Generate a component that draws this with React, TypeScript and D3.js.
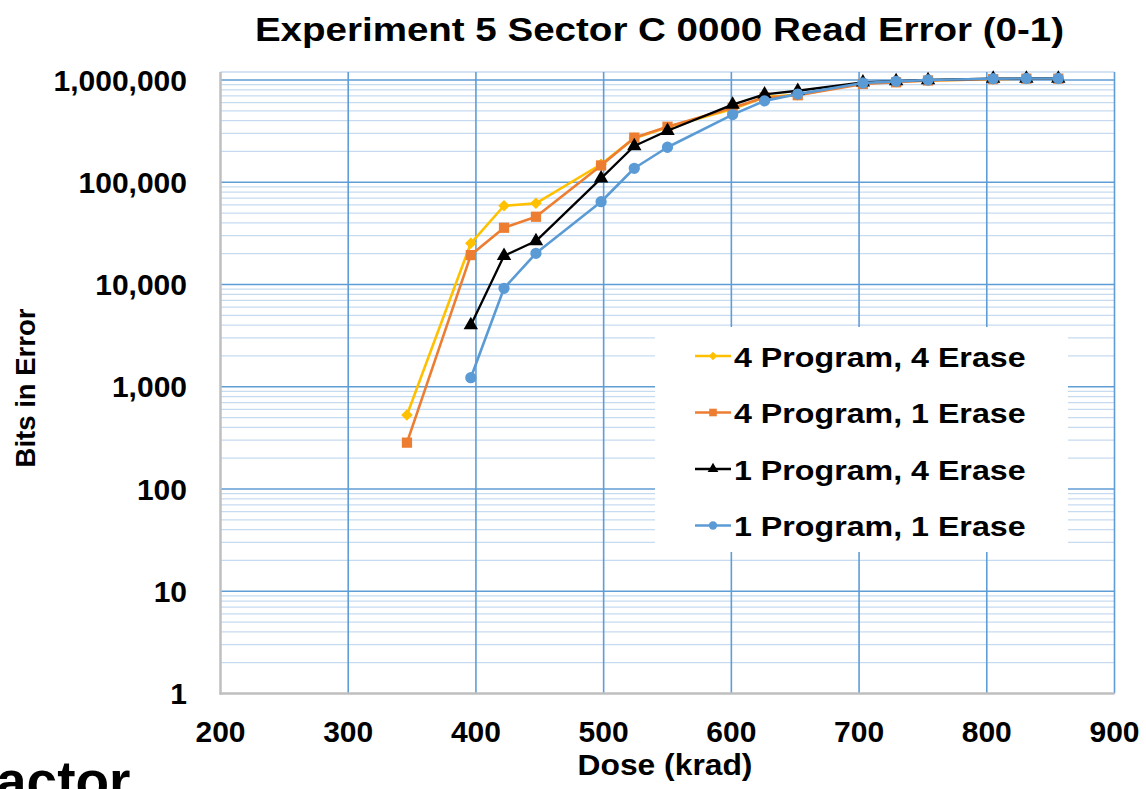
import React, { useEffect, useRef } from 'react';
import * as d3 from 'd3';

// dose points (krad)
const doses = [346, 396, 422, 447, 498, 524, 550, 601, 626, 652, 703, 729, 754, 805, 831, 856];

// bits in error per series (null = not measured)
const p4e4 = [530, 25300, 58900, 62200, 150000, 270000, 345000, 520000, 680000, 715000, 930000, 960000, 990000, 1020000, 1030000, 1030000];
const p4e1 = [284, 19400, 35900, 46000, 146000, 273000, 349000, 534000, 675000, 710000, 915000, 950000, 990000, 1020000, 1030000, 1030000];
const p1e4 = [null, 4000, 19100, 26600, 109000, 226000, 319000, 575000, 725000, 785000, 950000, 975000, 1000000, 1030000, 1035000, 1035000];
const p1e1 = [null, 1226, 9180, 20200, 64500, 137000, 220000, 459000, 625000, 728000, 935000, 970000, 1000000, 1030000, 1035000, 1035000];

const seriesNames = ['4 Program, 4 Erase', '4 Program, 1 Erase', '1 Program, 4 Erase', '1 Program, 1 Erase'];
const xTicks = [200, 300, 400, 500, 600, 700, 800, 900];
const yTicks = [1, 10, 100, 1000, 10000, 100000, 1000000];

const FONT = '"Liberation Sans", Arial, sans-serif';

const App = () => {
  const svgRef = useRef(null);

  useEffect(() => {
    const svg = d3.select(svgRef.current);
    svg.selectAll('*').remove();

    const left = 220.5, right = 1114.5, top = 72, bottom = 693.5;

    const x = d3.scaleLinear().domain([200, 900]).range([left, right]);
    const y = d3.scaleLog().domain([1, 1000000]).range([bottom, 80]);

    const g = svg.append('g');

    // minor grid
    const minors = [];
    for (let e = 0; e < 6; e++) {
      for (let m = 2; m <= 9; m++) minors.push(m * Math.pow(10, e));
    }
    g.selectAll('.minor')
      .data(minors)
      .enter().append('line')
      .attr('x1', left).attr('x2', right)
      .attr('y1', d => y(d)).attr('y2', d => y(d))
      .attr('stroke', '#c6dbf0')
      .attr('stroke-width', 1.3);

    // top border of plot area
    g.append('line')
      .attr('x1', left).attr('x2', right)
      .attr('y1', top).attr('y2', top)
      .attr('stroke', '#c6dbf0')
      .attr('stroke-width', 1.3);

    // major grid
    g.selectAll('.hmajor')
      .data(yTicks.slice(1))
      .enter().append('line')
      .attr('x1', left).attr('x2', right)
      .attr('y1', d => y(d)).attr('y2', d => y(d))
      .attr('stroke', '#5f9dd6')
      .attr('stroke-width', 1.6);

    g.selectAll('.vmajor')
      .data(xTicks.slice(1))
      .enter().append('line')
      .attr('x1', d => x(d)).attr('x2', d => x(d))
      .attr('y1', top).attr('y2', bottom)
      .attr('stroke', '#5f9dd6')
      .attr('stroke-width', 1.6);

    // axes lines
    g.append('line')
      .attr('x1', left).attr('x2', left)
      .attr('y1', top).attr('y2', bottom + 1)
      .attr('stroke', '#bfbfbf').attr('stroke-width', 2.5);
    g.append('line')
      .attr('x1', left - 1).attr('x2', right)
      .attr('y1', bottom).attr('y2', bottom)
      .attr('stroke', '#bfbfbf').attr('stroke-width', 2.5);

    // tick labels
    g.selectAll('.ylab')
      .data(yTicks)
      .enter().append('text')
      .attr('x', 187).attr('y', d => y(d) + 10.5)
      .attr('text-anchor', 'end')
      .attr('font-family', FONT).attr('font-weight', 'bold').attr('font-size', 30)
      .text(d => d3.format(',')(d));

    g.selectAll('.xlab')
      .data(xTicks)
      .enter().append('text')
      .attr('x', d => x(d)).attr('y', 742)
      .attr('text-anchor', 'middle')
      .attr('font-family', FONT).attr('font-weight', 'bold').attr('font-size', 30)
      .text(d => d);

    // axis titles
    g.append('text')
      .attr('transform', 'translate(665,775) scale(1.06,1)')
      .attr('text-anchor', 'middle')
      .attr('font-family', FONT).attr('font-weight', 'bold').attr('font-size', 30)
      .text('Dose (krad)');

    g.append('text')
      .attr('transform', 'translate(35,388) rotate(-90)')
      .attr('text-anchor', 'middle')
      .attr('font-family', FONT).attr('font-weight', 'bold').attr('font-size', 27.5)
      .text('Bits in Error');

    // title
    g.append('text')
      .attr('transform', 'translate(659.5,41) scale(1.15,1)')
      .attr('text-anchor', 'middle')
      .attr('font-family', FONT).attr('font-weight', 'bold').attr('font-size', 33.5)
      .text('Experiment 5 Sector C 0000 Read Error (0-1)');

    // leftover slide text, cut by the bottom edge as in the source
    svg.append('text')
      .attr('x', -4).attr('y', 800)
      .attr('font-family', FONT).attr('font-weight', 'bold').attr('font-size', 55)
      .text('actor');

    const series = [
      { name: seriesNames[0], values: p4e4, color: '#ffc000', symbol: d3.symbolDiamond2, size: 85, width: 2.6 },
      { name: seriesNames[1], values: p4e1, color: '#ed7d31', symbol: d3.symbolSquare, size: 105, width: 2.6 },
      { name: seriesNames[2], values: p1e4, color: '#000000', symbol: d3.symbolTriangle, size: 90, width: 2.3 },
      { name: seriesNames[3], values: p1e1, color: '#5b9bd5', symbol: d3.symbolCircle, size: 100, width: 2.6 },
    ];

    const line = d3.line()
      .defined(d => d.v != null)
      .x(d => x(d.x))
      .y(d => y(d.v));

    series.forEach(s => {
      const pts = doses.map((dx, i) => ({ x: dx, v: s.values[i] }));
      g.append('path')
        .datum(pts)
        .attr('d', line)
        .attr('fill', 'none')
        .attr('stroke', s.color)
        .attr('stroke-width', s.width)
        .attr('stroke-linejoin', 'round');
      g.selectAll(null)
        .data(pts.filter(p => p.v != null))
        .enter().append('path')
        .attr('transform', p => `translate(${x(p.x)},${y(p.v)})`)
        .attr('d', d3.symbol().type(s.symbol).size(s.size))
        .attr('fill', s.color);
    });

    // legend
    const lg = g.append('g');
    lg.append('rect')
      .attr('x', 655).attr('y', 327)
      .attr('width', 413).attr('height', 225)
      .attr('fill', '#ffffff');

    series.forEach((s, i) => {
      const cy = 356 + i * 56.5;
      lg.append('line')
        .attr('x1', 695).attr('x2', 731)
        .attr('y1', cy).attr('y2', cy)
        .attr('stroke', s.color).attr('stroke-width', 2.4);
      lg.append('path')
        .attr('transform', `translate(713,${cy})`)
        .attr('d', d3.symbol().type(s.symbol).size(s.size * 0.55))
        .attr('fill', s.color);
      lg.append('text')
        .attr('transform', `translate(734,${cy + 10.5}) scale(1.15,1)`)
        .attr('font-family', FONT).attr('font-weight', 'bold').attr('font-size', 28)
        .text(s.name);
    });
  }, []);

  return (
    <div style={{ position: 'fixed', left: 0, top: 0, width: 1146, height: 789, overflow: 'hidden', background: '#fff' }}>
      <svg ref={svgRef} width={1146} height={789}></svg>
    </div>
  );
};

export default App;
